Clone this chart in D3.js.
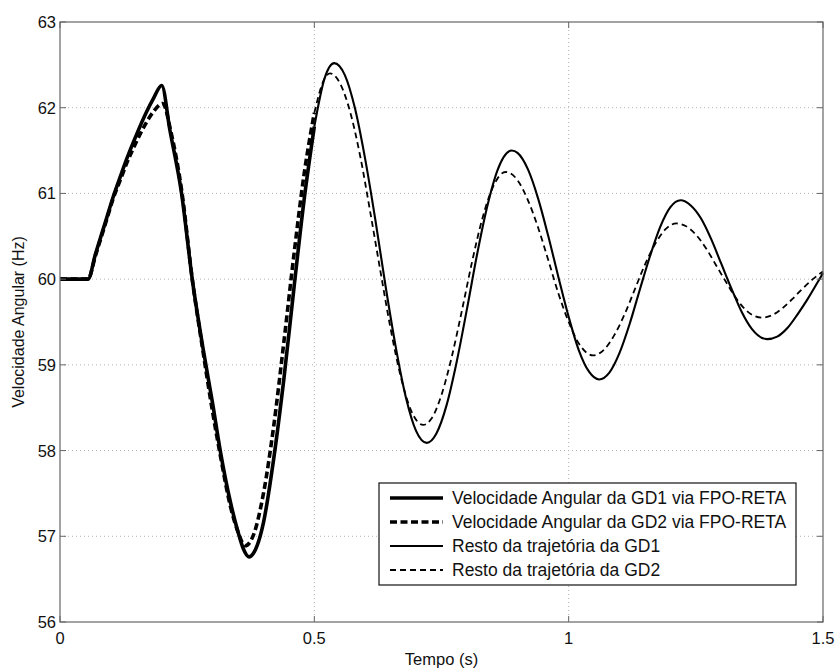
<!DOCTYPE html>
<html><head><meta charset="utf-8">
<script src="https://cdn.jsdelivr.net/npm/d3@7"></script>
<style>body{margin:0;background:#fff}svg{display:block}text{font-family:"Liberation Sans",Arial,sans-serif;fill:#111}</style>
</head><body><svg id="c" width="837" height="668"></svg>
<script>
const xTicks = [0, 0.5, 1, 1.5];
const xTickLabels = ["0", "0.5", "1", "1.5"];
const yTicks = [56, 57, 58, 59, 60, 61, 62, 63];
const tSplit = 0.5;
const tGD1 = [0,0.02,0.04,0.055,0.07,0.09,0.104,0.12,0.131,0.15,0.17,0.183,0.2,0.216,0.239,0.26,0.281,0.3,0.315,0.335,0.35,0.36,0.3715,0.38,0.40,0.42,0.44,0.46,0.48,0.50,0.52,0.539,0.56,0.58,0.60,0.62,0.64,0.66,0.68,0.70,0.721,0.74,0.76,0.78,0.80,0.82,0.84,0.86,0.888,0.90,0.92,0.94,0.96,0.98,1.00,1.02,1.04,1.06,1.08,1.10,1.12,1.14,1.16,1.18,1.20,1.22,1.24,1.26,1.28,1.30,1.32,1.34,1.36,1.39,1.41,1.43,1.45,1.47,1.49,1.50];
const vGD1 = [60,60,60,60,60.3,60.68,60.95,61.22,61.4,61.68,61.95,62.1,62.26,61.74,61.0,60.0,59.2,58.55,58.0,57.4,57.05,56.86,56.76,56.80,57.16,57.9,58.83,59.90,60.93,61.78,62.34,62.52,62.38,61.99,61.40,60.69,59.92,59.21,58.62,58.23,58.09,58.20,58.53,59.04,59.65,60.29,60.85,61.27,61.50,61.47,61.28,60.94,60.50,60.02,59.56,59.17,58.92,58.83,58.91,59.14,59.48,59.88,60.27,60.61,60.84,60.92,60.86,60.71,60.47,60.18,59.89,59.62,59.42,59.30,59.33,59.43,59.59,59.77,59.97,60.07];
const tGD2 = [0,0.02,0.04,0.055,0.07,0.09,0.104,0.12,0.131,0.15,0.17,0.183,0.202,0.218,0.24,0.26,0.28,0.30,0.315,0.335,0.35,0.364,0.38,0.40,0.42,0.44,0.46,0.48,0.50,0.52,0.531,0.55,0.57,0.59,0.61,0.63,0.65,0.67,0.69,0.714,0.73,0.75,0.77,0.79,0.81,0.83,0.85,0.876,0.90,0.92,0.94,0.96,0.98,1.00,1.02,1.048,1.07,1.09,1.11,1.13,1.15,1.17,1.19,1.212,1.23,1.25,1.27,1.29,1.31,1.33,1.35,1.38,1.40,1.42,1.44,1.46,1.48,1.50];
const vGD2 = [60,60,60,60,60.28,60.66,60.93,61.18,61.35,61.6,61.83,61.95,62.05,61.72,61.0,60.0,59.2,58.45,57.95,57.35,57.05,56.89,57.01,57.50,58.28,59.26,60.29,61.23,61.94,62.34,62.40,62.29,61.96,61.44,60.78,60.09,59.42,58.86,58.47,58.30,58.37,58.65,59.09,59.63,60.20,60.70,61.06,61.25,61.15,60.92,60.60,60.22,59.83,59.50,59.25,59.11,59.18,59.35,59.59,59.88,60.17,60.41,60.58,60.65,60.62,60.52,60.36,60.16,59.96,59.77,59.63,59.55,59.58,59.66,59.77,59.89,60.00,60.09];
const legendLabels = ["Velocidade Angular da GD1 via FPO-RETA","Velocidade Angular da GD2 via FPO-RETA","Resto da trajetória da GD1","Resto da trajetória da GD2"];

const L = 60, R = 823, T = 22, B = 622;
const svg = d3.select("#c");
const x = d3.scaleLinear().domain([0, 1.5]).range([L, R]);
const y = d3.scaleLinear().domain([56, 63]).range([B, T]);

// grid
const g = svg.append("g");
g.selectAll(".gx").data(xTicks.slice(1, -1)).enter().append("line")
  .attr("x1", d => x(d)).attr("x2", d => x(d)).attr("y1", T).attr("y2", B)
  .attr("stroke", "#b4b4b4").attr("stroke-width", 1).attr("stroke-dasharray", "1,3");
g.selectAll(".gy").data(yTicks.slice(1, -1)).enter().append("line")
  .attr("y1", d => y(d)).attr("y2", d => y(d)).attr("x1", L).attr("x2", R)
  .attr("stroke", "#b4b4b4").attr("stroke-width", 1).attr("stroke-dasharray", "1,3");

// lines
const line = d3.line().x(d => x(d[0])).y(d => y(d[1])).curve(d3.curveMonotoneX);
const pts = (t, v) => t.map((d, i) => [d, v[i]]);
const p1 = pts(tGD1, vGD1), p2 = pts(tGD2, vGD2);
const series = [
  {d: p1.filter(p => p[0] >= tSplit), w: 2.1, dash: null},
  {d: p2.filter(p => p[0] >= tSplit), w: 1.8, dash: "6,4"},
  {d: p1.filter(p => p[0] <= tSplit), w: 3.6, dash: null},
  {d: p2.filter(p => p[0] <= tSplit), w: 3.6, dash: "7,3.5"}
];
series.forEach(s => {
  svg.append("path").attr("d", line(s.d)).attr("fill", "none").attr("stroke", "#000")
    .attr("stroke-width", s.w).attr("stroke-dasharray", s.dash).attr("stroke-linejoin", "round");
});

// axes box
const ax = svg.append("g");
ax.append("rect").attr("x", L).attr("y", T).attr("width", R - L).attr("height", B - T)
  .attr("fill", "none").attr("stroke", "#666").attr("stroke-width", 1.2);
xTicks.forEach((d, i) => {
  ax.append("line").attr("x1", x(d)).attr("x2", x(d)).attr("y1", B).attr("y2", B - 6).attr("stroke", "#666");
  ax.append("line").attr("x1", x(d)).attr("x2", x(d)).attr("y1", T).attr("y2", T + 6).attr("stroke", "#666");
  ax.append("text").attr("x", x(d)).attr("y", 644).attr("text-anchor", "middle")
    .attr("font-size", 16.5).text(xTickLabels[i]);
});
yTicks.forEach(d => {
  ax.append("line").attr("x1", L).attr("x2", L + 6).attr("y1", y(d)).attr("y2", y(d)).attr("stroke", "#666");
  ax.append("line").attr("x1", R).attr("x2", R - 6).attr("y1", y(d)).attr("y2", y(d)).attr("stroke", "#666");
  ax.append("text").attr("x", 56).attr("y", y(d) + 6).attr("text-anchor", "end")
    .attr("font-size", 16.5).text(d);
});
svg.append("text").attr("x", (L + R) / 2).attr("y", 665).attr("text-anchor", "middle")
  .attr("font-size", 16.5).text("Tempo (s)");
svg.append("text").attr("transform", `translate(24,${(T + B) / 2}) rotate(-90)`)
  .attr("text-anchor", "middle").attr("font-size", 16).text("Velocidade Angular (Hz)");

// legend
const lg = svg.append("g");
lg.append("rect").attr("x", 379).attr("y", 483).attr("width", 417).attr("height", 102)
  .attr("fill", "#fff").attr("stroke", "#111").attr("stroke-width", 1.2);
const legStyle = [{w: 3.6, dash: null}, {w: 3.6, dash: "7,3.5"}, {w: 2.1, dash: null}, {w: 1.8, dash: "6,4"}];
legendLabels.forEach((t, i) => {
  const cy = 498 + i * 24;
  lg.append("line").attr("x1", 390).attr("x2", 443).attr("y1", cy).attr("y2", cy)
    .attr("stroke", "#000").attr("stroke-width", legStyle[i].w).attr("stroke-dasharray", legStyle[i].dash);
  lg.append("text").attr("x", 452).attr("y", cy + 6).attr("font-size", 17.5).text(t);
});
</script></body></html>
